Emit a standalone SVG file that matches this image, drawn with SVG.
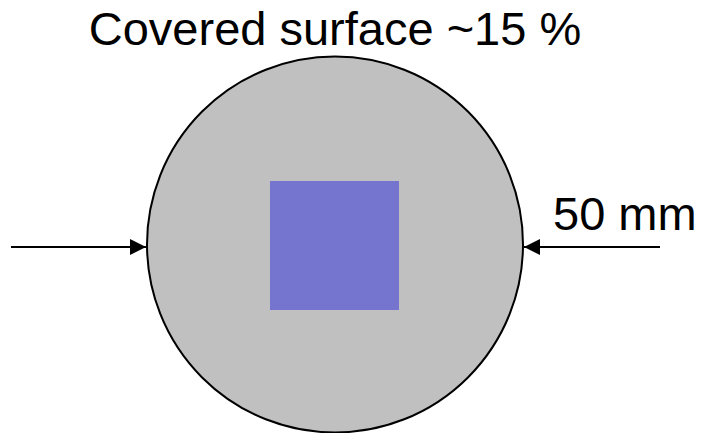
<svg xmlns="http://www.w3.org/2000/svg" width="702" height="433" viewBox="0 0 702 433">
<defs>
<style>
.lbl{font-family:"Liberation Sans",Arial,sans-serif;font-size:47px;fill:#000}
.con{stroke:#000;stroke-width:2;fill:none}
</style>
<marker id="ah" viewBox="0 0 16 16" refX="16" refY="8" markerWidth="16" markerHeight="16" markerUnits="userSpaceOnUse" orient="auto">
<path d="M0,0 L16,8 L0,16 z" fill="#000"/>
</marker>
</defs>
<rect width="702" height="433" fill="#fff"/>
<g id="title"><text class="lbl" x="335" y="45" text-anchor="middle">Covered surface ~15 %</text></g>
<g id="disc"><circle cx="335" cy="244.5" r="188" fill="#c0c0c0" stroke="#000" stroke-width="2"/></g>
<g id="square"><rect x="270" y="181" width="129" height="129" fill="#7575d0"/></g>
<g id="dim"><text class="lbl" x="553" y="230">50 mm</text></g>
<g id="connectors">
<path class="con" d="M11,247 H146" marker-end="url(#ah)"/>
<path class="con" d="M660,247 H524" marker-end="url(#ah)"/>
</g>
</svg>
